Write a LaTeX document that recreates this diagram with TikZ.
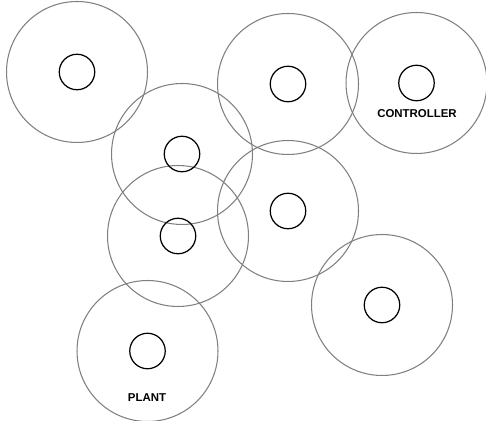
\documentclass[tikz,border=0pt]{standalone}
\usepackage{fontspec}
\setmainfont{Liberation Sans}
\begin{document}
\begin{tikzpicture}[x=0.02cm,y=-0.02cm]
\definecolor{ringgray}{RGB}{128,128,128}
\tikzset{ring/.style={circle,draw=ringgray,line width=0.6pt,minimum size=2.82cm,inner sep=0pt},
	core/.style={circle,draw=black,line width=0.7pt,minimum size=0.71cm,inner sep=0pt},
	tag/.style={font=\fontsize{6.5}{7}\selectfont\bfseries,inner sep=0pt}}
	\useasboundingbox (0,0) rectangle (486,421);
	% outer rings
	\node[ring] (r1) at (77,72){};
	\node[ring] (r2) at (288,84){};
	\node[ring] (r3) at (416.5,83){};
	\node[ring] (r4) at (182,154){};
	\node[ring] (r5) at (288,211){};
	\node[ring] (r6) at (178,236){};
	\node[ring] (r7) at (382,305){};
	\node[ring] (r8) at (147.5,351){};
	% inner circles
	\node[core] (c1) at (r1.center){};
	\node[core] (c2) at (r2.center){};
	\node[core] (c3) at (r3.center){};
	\node[core] (c4) at (r4.center){};
	\node[core] (c5) at (r5.center){};
	\node[core] (c6) at (r6.center){};
	\node[core] (c7) at (r7.center){};
	\node[core] (c8) at (r8.center){};
	\node[tag] (ctrl) at (417,114){CONTROLLER};
	\node[tag] (plant) at (147,398){PLANT};
\end{tikzpicture}
\end{document}
